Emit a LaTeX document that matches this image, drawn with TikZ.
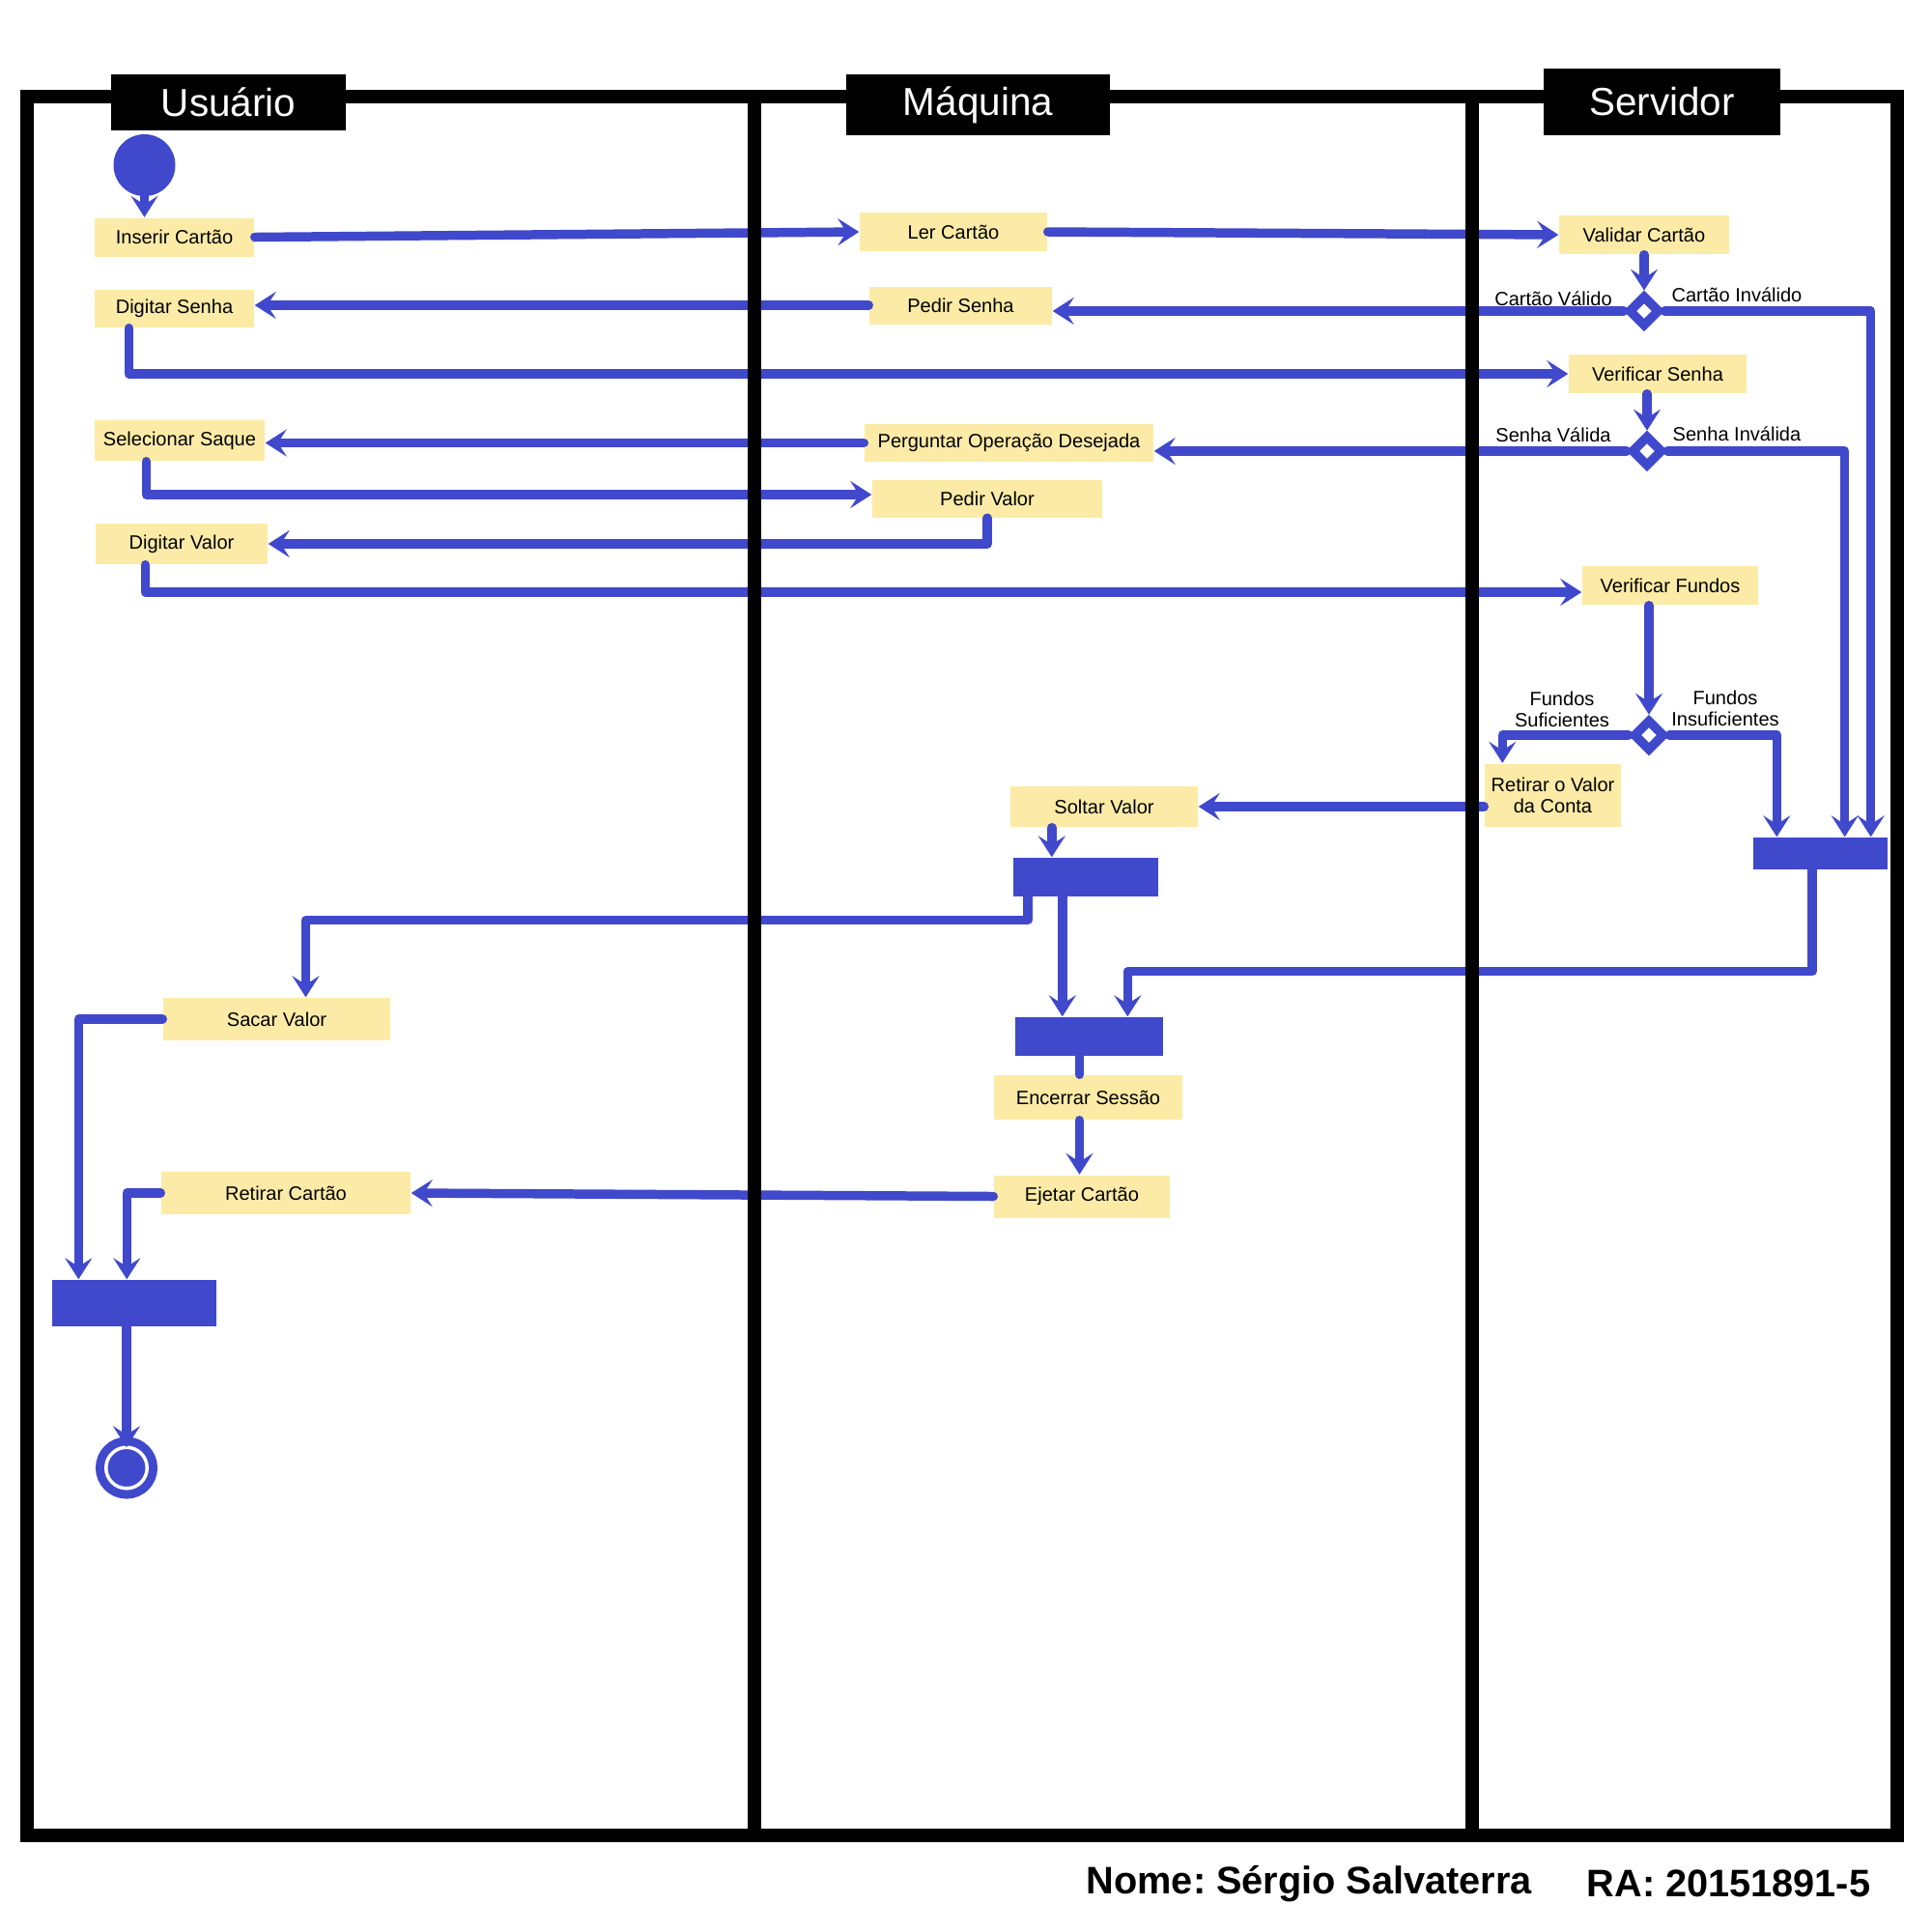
\documentclass[tikz,border=0pt]{standalone}
\usepackage{fontspec}
\setmainfont{Liberation Sans}
\usepackage{xcolor}
\usepackage{tikz}
\usetikzlibrary{shapes.geometric, arrows.meta, positioning, calc}
\definecolor{flowblue}{RGB}{64,72,204}
\definecolor{actyellow}{RGB}{252,235,166}
\frenchspacing

\begin{document}
\begin{tikzpicture}[
    x=1mm, y=-1mm,
    block/.style={rectangle, fill=actyellow, inner sep=0pt, align=center, font=\fontsize{5.7}{6.3}\selectfont},
    bar/.style={rectangle, fill=flowblue, inner sep=0pt},
    decision/.style={diamond, draw=flowblue, fill=white, line width=2.7pt, inner sep=0pt, minimum width=3.3mm, minimum height=3.3mm},
    lbl/.style={align=center, inner sep=0pt, font=\fontsize{5.7}{6.3}\selectfont},
    header/.style={rectangle, fill=black, text=white, inner sep=0pt, font=\fontsize{11.5}{13}\selectfont},
    flow/.style={draw=flowblue, line width=2.7pt, line cap=round, line join=round},
    arrow/.style={flow, -{Stealth[length=2.2mm, width=2.8mm, inset=0.9mm]}},
    lane/.style={draw=black, line width=1.4mm}
]

\fill[white] (0,0) rectangle (200,200);
\useasboundingbox (0,0) rectangle (200,200);

% Lane 1: Usuario
\node[circle, fill=flowblue, inner sep=0pt, minimum size=6.4mm] (start) at (14.95,17.1) {};
\node[block, minimum width=16.5mm, minimum height=4mm] (ins) at (18.05,24.55) {Inserir Cartão};
\node[block, minimum width=16.5mm, minimum height=3.9mm] (dsenha) at (18.05,31.95) {Digitar Senha};
\node[block, minimum width=17.6mm, minimum height=4.2mm] (ssaque) at (18.6,45.6) {Selecionar Saque};
\node[block, minimum width=17.8mm, minimum height=4.2mm] (dvalor) at (18.8,56.3) {Digitar Valor};
\node[block, minimum width=23.5mm, minimum height=4.4mm] (sacar) at (28.65,105.5) {Sacar Valor};
\node[block, minimum width=25.8mm, minimum height=4.4mm] (retcartao) at (29.6,123.5) {Retirar Cartão};
\node[bar, minimum width=17mm, minimum height=4.8mm] (barU) at (13.9,134.9) {};
\node[circle, fill=flowblue, draw=flowblue, double=white, double distance=0.35mm, line width=0.9mm, inner sep=0pt, outer sep=0pt, minimum size=4.25mm] (fim) at (13.1,151.95) {};

% Lane 2: Maquina
\node[block, minimum width=19.4mm, minimum height=4mm] (ler) at (98.7,24.0) {Ler Cartão};
\node[block, minimum width=18.9mm, minimum height=3.9mm] (psenha) at (99.45,31.6) {Pedir Senha};
\node[block, minimum width=29.9mm, minimum height=3.9mm] (pod) at (104.45,45.85) {Perguntar Operação Desejada};
\node[block, minimum width=23.8mm, minimum height=3.9mm] (pvalor) at (102.2,51.6) {Pedir Valor};
\node[block, minimum width=19.4mm, minimum height=4.2mm] (soltar) at (114.3,83.5) {Soltar Valor};
\node[bar, minimum width=15mm, minimum height=4mm] (bar1) at (112.35,90.8) {};
\node[bar, minimum width=15.3mm, minimum height=4mm] (bar2) at (112.75,107.3) {};
\node[block, minimum width=19.5mm, minimum height=4.6mm] (encerrar) at (112.65,113.6) {Encerrar Sessão};
\node[block, minimum width=18.2mm, minimum height=4.4mm] (ejetar) at (112.0,123.85) {Ejetar Cartão};

% Lane 3: Servidor
\node[block, minimum width=17.6mm, minimum height=4mm] (vcartao) at (170.2,24.3) {Validar Cartão};
\node[decision, below=3.7mm of vcartao] (d1) {};
\node[block, minimum width=18.4mm, minimum height=4mm] (vsenha) at (171.6,38.7) {Verificar Senha};
\node[decision, below=3.8mm of vsenha, xshift=-1.1mm] (d2) {};
\node[block, minimum width=18.2mm, minimum height=4mm] (vfundos) at (172.9,60.6) {Verificar Fundos};
\node[decision] (d3) at (170.7,76.1) {};
\node[block, minimum width=14.1mm, minimum height=6.5mm] (retval) at (160.75,82.3) {Retirar o Valor\\da Conta};
\node[bar, minimum width=13.9mm, minimum height=3.3mm] (joinR) at (188.45,88.35) {};

% Guard labels
\node[lbl] (lcv) at (160.8,30.9) {Cartão Válido};
\node[lbl] (lci) at (179.8,30.5) {Cartão Inválido};
\node[lbl] (lsv) at (160.8,45.0) {Senha Válida};
\node[lbl] (lsi) at (179.8,44.9) {Senha Inválida};
\node[lbl] (lfs) at (161.7,73.4) {Fundos\\Suficientes};
\node[lbl] (lfi) at (178.6,73.3) {Fundos\\Insuficientes};

% Attachment points
\coordinate (cv1) at ([xshift=3.6mm]dsenha.south west);
\coordinate (cv2) at ([xshift=5.4mm]ssaque.south west);
\coordinate (cv3) at ([xshift=5.2mm]dvalor.south west);
\coordinate (cf) at ([yshift=-0.7mm]vfundos.west);
\coordinate (cpv) at ([yshift=0.4mm]pvalor.west);
\coordinate (cs) at ([xshift=1.9mm]retval.north west);
\coordinate (cr1) at ([xshift=-1.8mm]joinR.north east);
\coordinate (cr2) at ([xshift=-4.5mm]joinR.north east);
\coordinate (cr3) at ([xshift=2.5mm]joinR.north west);
\coordinate (cr4) at ([xshift=-0.85mm]joinR.south);
\coordinate (cb1) at ([xshift=4.1mm]bar1.north west);
\coordinate (cb2) at ([xshift=1.6mm]bar1.south west);
\coordinate (cb3) at ([xshift=3mm]sacar.north);
\coordinate (cb4) at ([xshift=5.2mm]bar1.south west);
\coordinate (cb5) at ([xshift=11.7mm]bar2.north west);
\coordinate (ce) at ([xshift=-0.9mm]encerrar.south);
\coordinate (cu1) at ([xshift=2.8mm]barU.north west);
\coordinate (cu2) at ([xshift=7.8mm]barU.north west);

% Arrows
\draw[arrow] (start.south) -- (start.south |- ins.north);
\draw[arrow] (ins.east) -- (ler.west);
\draw[arrow] (ler.east) -- (vcartao.west);
\draw[arrow] (vcartao.south) -- (d1.north);
\draw[arrow] (d1.west) -- (d1.west -| psenha.east);
\draw[arrow] (psenha.west) -- (psenha.west -| dsenha.east);
\draw[arrow] (d1.east) -| (cr1);
\draw[arrow] (cv1) |- (vsenha.west);
\draw[arrow] (vsenha.south -| d2.north) -- (d2.north);
\draw[arrow] (d2.west) -- (d2.west -| pod.east);
\draw[arrow] (pod.west) -- (pod.west -| ssaque.east);
\draw[arrow] (d2.east) -| (cr2);
\draw[arrow] (cv2) |- (cpv);
\draw[arrow] (pvalor.south) |- (dvalor.east);
\draw[arrow] (cv3) |- (cf);
\draw[arrow] (d3.north |- vfundos.south) -- (d3.north);
\draw[arrow] (d3.west) -| (cs);
\draw[arrow] (d3.east) -| (cr3);
\draw[arrow] (soltar.east -| retval.west) -- (soltar.east);
\draw[arrow] (cb1 |- soltar.south) -- (cb1);
\draw[arrow] (cb2) -- ++(0,2.4) -| (cb3);
\draw[arrow] (cb4) -- (cb4 |- bar2.north);
\draw[arrow] (cr4) -- ++(0,10.5) -| (cb5);
\draw[flow] (ce |- bar2.south) -- (ce |- encerrar.north);
\draw[arrow] (ce) -- (ce |- ejetar.north);
\draw[arrow] (ejetar.west) -- (retcartao.east);
\draw[arrow] (sacar.west) -| (cu1);
\draw[arrow] (retcartao.west) -| (cu2);
\draw[arrow] (fim.north |- barU.south) -- (fim.north);

% Swimlanes
\draw[lane] (2.8,10) rectangle (196.4,190);
\draw[lane] (78.1,10) -- (78.1,190);
\draw[lane] (152.4,10) -- (152.4,190);
\node[header, minimum width=24.3mm, minimum height=5.8mm] (husr) at (23.65,10.6) {Usuário};
\node[header, minimum width=27.3mm, minimum height=6.3mm] (hmaq) at (101.25,10.85) {Máquina};
\node[header, minimum width=24.5mm, minimum height=6.9mm] (hsrv) at (172.05,10.55) {Servidor};

% Footer
\node[anchor=west, inner sep=0pt, font=\fontsize{11.3}{13}\selectfont\bfseries] (nome) at (112.4,195.0) {Nome: Sérgio Salvaterra};
\node[anchor=east, inner sep=0pt, font=\fontsize{11.3}{13}\selectfont\bfseries] (ra) at (193.7,195.0) {RA: 20151891-5};

\end{tikzpicture}
\end{document}
